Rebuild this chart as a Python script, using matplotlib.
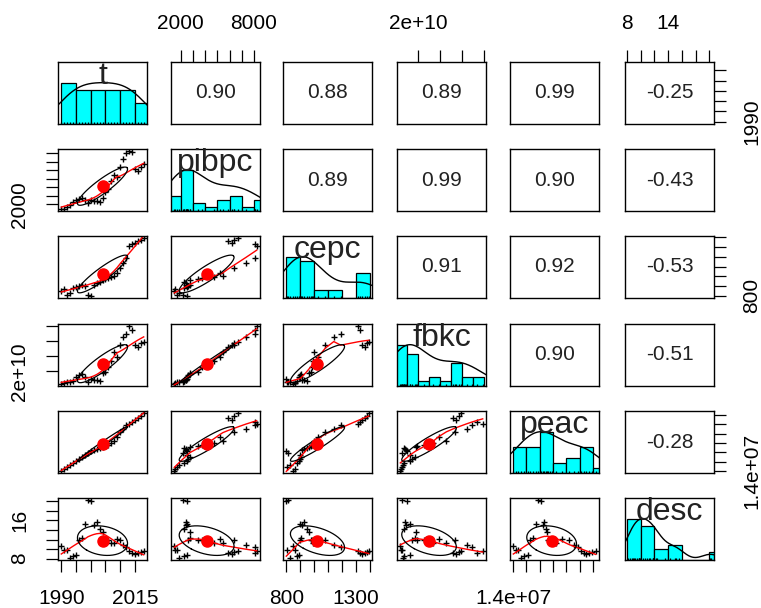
import numpy as np
import matplotlib
matplotlib.use("Agg")
import matplotlib.pyplot as plt

plt.rcParams["font.family"] = ["Liberation Sans", "DejaVu Sans"]

# one value per year
names = ["t", "pibpc", "cepc", "fbkc", "peac", "desc"]
t = [1990, 1991, 1992, 1993, 1994, 1995, 1996, 1997, 1998, 1999,
     2000, 2001, 2002, 2003, 2004, 2005, 2006, 2007, 2008, 2009,
     2010, 2011, 2012, 2013, 2014, 2015, 2016, 2017, 2018]
pibpc = [1490, 1510, 1720, 1880, 2280, 2540, 2640, 2790, 2520, 2170,
         2520, 2440, 2410, 2290, 2800, 3430, 3760, 4730, 5460, 5190,
         6340, 7340, 8050, 8220, 8110, 6180, 5870, 6380, 6720]
cepc = [850, 865, 805, 830, 875, 890, 895, 905, 898, 812,
        800, 915, 930, 945, 960, 975, 985, 992, 998, 1030,
        1080, 1140, 1190, 1310, 1330, 1345, 1360, 1375, 1390]
fbkc = [1.20e10, 1.24e10, 1.28e10, 1.33e10, 1.38e10, 1.66e10, 1.74e10, 1.86e10, 1.62e10, 1.30e10,
        1.52e10, 1.46e10, 1.42e10, 1.36e10, 1.92e10, 1.97e10, 2.30e10, 2.70e10, 3.30e10, 2.95e10,
        3.70e10, 4.25e10, 4.45e10, 4.95e10, 4.70e10, 3.75e10, 3.60e10, 3.85e10, 3.95e10]
peac = [1.404e7, 1.44e7, 1.48e7, 1.52e7, 1.57e7, 1.62e7, 1.66e7, 1.70e7, 1.74e7, 1.78e7,
        1.82e7, 1.85e7, 1.87e7, 1.89e7, 1.91e7, 1.93e7, 1.96e7, 1.99e7, 2.05e7, 2.14e7,
        2.24e7, 2.31e7, 2.38e7, 2.42e7, 2.46e7, 2.50e7, 2.54e7, 2.58e7, 2.64e7]
desc = [10.6, 9.9, 9.8, 8.2, 8.5, 8.7, 11.8, 12.4, 15.2, 20.2,
        20.1, 15.0, 15.6, 14.2, 13.6, 11.9, 11.8, 11.2, 11.3, 12.2,
        11.8, 10.9, 10.4, 9.7, 9.1, 8.9, 9.2, 9.4, 9.7]

# correlations printed in the upper panels, row by row
cor_rows = [
    ["0.90", "0.88", "0.89", "0.99", "-0.25"],
    ["0.89", "0.99", "0.90", "-0.43"],
    ["0.91", "0.92", "-0.53"],
    ["0.90", "-0.51"],
    ["-0.28"],
]

# tick labels that survive on the outer axes (the others are blank)
x_shown = {"t": [(1990, "1990"), (2015, "2015")],
           "pibpc": [(2000, "2000"), (8000, "8000")],
           "cepc": [(800, "800"), (1300, "1300")],
           "fbkc": [(2e10, "2e+10")],
           "peac": [(1.4e7, "1.4e+07")],
           "desc": [(8, "8"), (14, "14")]}
y_shown = {"t": [(1990, "1990")],
           "pibpc": [(2000, "2000")],
           "cepc": [(800, "800")],
           "fbkc": [(2e10, "2e+10")],
           "peac": [(1.4e7, "1.4e+07")],
           "desc": [(8, "8"), (16, "16")]}

data = {"t": t, "pibpc": pibpc, "cepc": cepc, "fbkc": fbkc, "peac": peac, "desc": desc}


def pretty_step(lo, hi, n, h, h5):
    # same unit choice as R's pretty()
    cell = (hi - lo) / n
    base = 10.0 ** np.floor(np.log10(cell))
    unit = base
    if 2 * base - cell < h * (cell - unit):
        unit = 2 * base
        if 5 * base - cell < h5 * (cell - unit):
            unit = 5 * base
            if 10 * base - cell < h * (cell - unit):
                unit = 10 * base
    return unit


def hist_breaks(x):
    n_class = int(np.ceil(np.log2(len(x)) + 1))
    unit = pretty_step(min(x), max(x), n_class, 1.5, 2.75)
    lo = np.floor(min(x) / unit + 1e-9) * unit
    hi = np.ceil(max(x) / unit - 1e-9) * unit
    return np.arange(lo, hi + unit / 2, unit)


def axis_ticks(lim):
    unit = pretty_step(lim[0], lim[1], 5, 0.8, 1.7)
    ticks = np.arange(np.floor(lim[0] / unit) * unit, lim[1] + unit, unit)
    return ticks[(ticks >= lim[0]) & (ticks <= lim[1])]


def tick_text(ticks, shown):
    out = []
    for v in ticks:
        s = ""
        for k, lab in shown:
            if np.isclose(v, k):
                s = lab
        out.append(s)
    return out


def lowess(x, y, f=2 / 3, iters=3):
    order = np.argsort(x, kind="stable")
    xs = np.asarray(x, float)[order]
    ys = np.asarray(y, float)[order]
    n = len(xs)
    ns = max(min(int(f * n + 1e-7), n), 2)
    rw = np.ones(n)
    fit = ys.copy()
    for it in range(iters + 1):
        for i in range(n):
            d = np.abs(xs - xs[i])
            h = np.sort(d)[ns - 1]
            u = d / h if h > 0 else d
            w = np.where(u < 1, (1 - u ** 3) ** 3, 0.0) * rw
            sw = w.sum()
            if sw <= 0:
                continue
            xm = (w * xs).sum() / sw
            ym = (w * ys).sum() / sw
            sxx = (w * (xs - xm) ** 2).sum()
            b = (w * (xs - xm) * (ys - ym)).sum() / sxx if sxx > 0 else 0.0
            fit[i] = ym + b * (xs[i] - xm)
        if it == iters:
            break
        res = ys - fit
        cmad = 6 * np.median(np.abs(res))
        if cmad == 0:
            break
        u = res / cmad
        rw = np.where(np.abs(u) < 1, (1 - u ** 2) ** 2, 0.0)
    return xs, fit


def density(x):
    x = np.asarray(x, float)
    n = len(x)
    iqr = np.subtract(*np.percentile(x, [75, 25]))
    bw = 1.06 * min(np.std(x, ddof=1), iqr / 1.34) * n ** -0.2 * 1.2
    grid = np.linspace(x.min() - 3 * bw, x.max() + 3 * bw, 512)
    dens = np.exp(-0.5 * ((grid[:, None] - x[None, :]) / bw) ** 2).sum(axis=1)
    return grid, dens / dens.max()


def lims(v):
    v = np.asarray(v, float)
    r = v.max() - v.min()
    return (v.min() - 0.04 * r, v.max() + 0.04 * r)


fig = plt.figure(figsize=(7.61, 6.08), dpi=100)
W, H = 761.0, 608.0
col_left = [58, 171, 283, 397, 510, 625]
row_top = [62, 149, 236, 324, 411, 498]
pw, ph = 89, 62

nv = len(names)
for i in range(nv):          # row -> y variable
    for j in range(nv):      # column -> x variable
        ax = fig.add_axes([col_left[j] / W, 1 - (row_top[i] + ph) / H, pw / W, ph / H])
        xv, yv = names[j], names[i]
        x = np.asarray(data[xv], float)
        y = np.asarray(data[yv], float)
        xl = lims(x)
        ax.set_xlim(xl)

        if i == j:
            # histogram, density and rug on the diagonal
            br = hist_breaks(x)
            idx = np.clip(np.searchsorted(br, x, side="left") - 1, 0, len(br) - 2)
            counts = np.bincount(idx, minlength=len(br) - 1)
            ax.bar(br[:-1], counts / counts.max(), width=np.diff(br), align="edge",
                   color="#00FFFF", edgecolor="black", linewidth=0.9)
            gx, gy = density(x)
            ax.plot(gx, gy, color="black", linewidth=1.0)
            ax.vlines(x, 0, 0.045, color="black", linewidth=0.9)
            ax.set_ylim(0, 1.5)
            ax.text(0.5, 0.78, xv, transform=ax.transAxes, ha="center", va="center",
                    fontsize=23, color="#222222")
        elif i > j:
            # scatter, lowess and correlation ellipse below the diagonal
            ax.set_ylim(lims(y))
            ax.plot(x, y, "+", color="black", markersize=4.5, markeredgewidth=1.0)
            lx, ly = lowess(x, y)
            ax.plot(lx, ly, color="red", linewidth=1.0)
            r = np.corrcoef(x, y)[0, 1]
            th = np.sign(r) / np.sqrt(2)
            a = np.linspace(0, 2 * np.pi, 52)
            ex = th * (np.cos(a) * np.sqrt(1 + r) - np.sin(a) * np.sqrt(1 - r))
            ey = th * (np.cos(a) * np.sqrt(1 + r) + np.sin(a) * np.sqrt(1 - r))
            ax.plot(ex * x.std(ddof=1) + x.mean(), ey * y.std(ddof=1) + y.mean(),
                    color="black", linewidth=0.9)
            ax.plot([x.mean()], [y.mean()], "o", color="red", markersize=8)
        else:
            ax.set_ylim(lims(y))
            ax.text(0.5, 0.5, cor_rows[i][j - i - 1], transform=ax.transAxes,
                    ha="center", va="center", fontsize=15, color="#222222")

        # outer axes alternate sides like R's pairs()
        ax.tick_params(direction="out", length=8.6, width=0.9, pad=12, labelsize=15,
                       top=False, bottom=False, left=False, right=False,
                       labeltop=False, labelbottom=False, labelleft=False, labelright=False)
        xt = axis_ticks(xl)
        ax.set_xticks(xt)
        ax.set_xticklabels(tick_text(xt, x_shown[xv]))
        if i != j:
            yt = axis_ticks(lims(y))
            ax.set_yticks(yt)
            ax.set_yticklabels(tick_text(yt, y_shown[yv]), rotation=90, va="center")
        else:
            ax.set_yticks([])
        if i == 0 and j % 2 == 1:
            ax.tick_params(axis="x", top=True, labeltop=True)
        if i == nv - 1 and j % 2 == 0:
            ax.tick_params(axis="x", bottom=True, labelbottom=True)
        if j == 0 and i % 2 == 1:
            ax.tick_params(axis="y", left=True, labelleft=True)
        if j == nv - 1 and i % 2 == 0:
            ax.tick_params(axis="y", right=True, labelright=True)
        for sp in ax.spines.values():
            sp.set_linewidth(1.0)

fig.savefig("out.png", dpi=100)
